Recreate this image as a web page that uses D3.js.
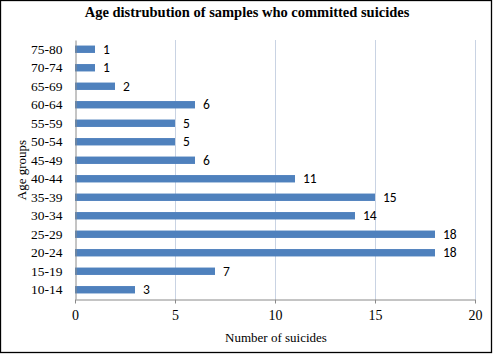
<!DOCTYPE html>
<html><head><meta charset="utf-8">
<script src="https://cdn.jsdelivr.net/npm/d3@7"></script>
<style>body{margin:0;background:#fff}svg{display:block}</style>
</head><body>
<script>
const categories = ["10-14","15-19","20-24","25-29","30-34","35-39","40-44","45-49","50-54","55-59","60-64","65-69","70-74","75-80"];
const values = [3,7,18,18,14,15,11,6,5,5,6,2,1,1];
const xTicks = [0,5,10,15,20];
const title = "Age distrubution of samples who committed suicides";
const xTitle = "Number of suicides";
const yTitle = "Age groups";

(function(){
const W = 493, H = 354;
const svg = d3.select("body").append("svg").attr("width", W).attr("height", H);
svg.append("rect").attr("x",0.5).attr("y",0.5).attr("width",W-2).attr("height",H-2)
  .attr("fill","#fff").attr("stroke","#000").attr("stroke-width",1.3);

const mL = 75, mR = 475, mT = 40, mB = 299;
const x = d3.scaleLinear().domain([0,20]).range([mL,mR]);
const y = d3.scaleBand().domain(categories.slice().reverse()).range([mT,mB]).paddingInner(0.6).paddingOuter(0.3);

svg.append("g").selectAll("line").data(xTicks.filter(d=>d>0)).join("line")
  .attr("x1",d=>x(d)+0.5).attr("x2",d=>x(d)+0.5).attr("y1",mT).attr("y2",mB)
  .attr("stroke","#c9d3e3").attr("stroke-width",1);

svg.append("g").selectAll("rect").data(categories).join("rect")
  .attr("x",x(0)).attr("y",d=>y(d)).attr("height",y.bandwidth())
  .attr("width",(d,i)=>x(values[i])-x(0)).attr("fill","#4f81bd");

svg.append("g").selectAll("text").data(categories).join("text")
  .attr("x",(d,i)=>x(values[i])+8).attr("y",d=>y(d)+y.bandwidth()/2)
  .attr("dy","0.35em").attr("font-family","Carlito, 'Liberation Sans', sans-serif").attr("font-size",13.5)
  .attr("fill","#000").text((d,i)=>values[i]);

const xa = svg.append("g").attr("transform",`translate(0,${mB+0.5})`)
  .call(d3.axisBottom(x).tickValues(xTicks).tickSize(4).tickSizeOuter(0).tickPadding(7));
xa.select(".domain").attr("stroke","#8a8a8a");
xa.selectAll(".tick line").attr("stroke","#8a8a8a");
xa.selectAll("text").attr("font-family","'Liberation Serif', serif").attr("font-size",14).attr("fill","#000");

const ya = svg.append("g").attr("transform",`translate(${mL+0.5},0)`)
  .call(d3.axisLeft(y).tickSize(0).tickPadding(13));
ya.select(".domain").attr("stroke","#8a8a8a");
ya.selectAll("text").attr("font-family","'Liberation Serif', serif").attr("font-size",13.5).attr("fill","#000");

svg.append("text").attr("x",247).attr("y",17).attr("text-anchor","middle")
  .attr("font-family","'Liberation Serif', serif").attr("font-weight","bold").attr("font-size",14.5).text(title);
svg.append("text").attr("x",276).attr("y",342).attr("text-anchor","middle")
  .attr("font-family","'Liberation Serif', serif").attr("font-size",13).text(xTitle);
svg.append("text").attr("transform",`translate(26,170) rotate(-90)`).attr("text-anchor","middle")
  .attr("font-family","'Liberation Serif', serif").attr("font-size",13).text(yTitle);
})();
</script>
</body></html>
